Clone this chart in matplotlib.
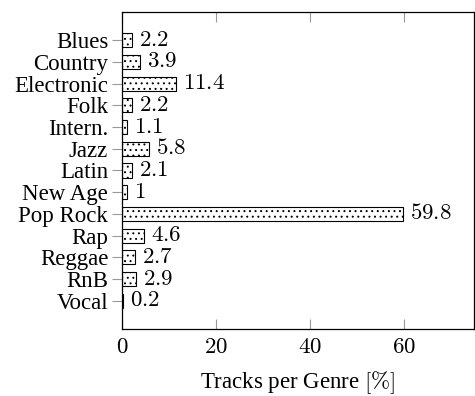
import numpy as np
import matplotlib.pyplot as plt

plt.rcParams['font.family'] = ['Liberation Serif', 'DejaVu Serif']
plt.rcParams['mathtext.fontset'] = 'cm'
plt.rcParams['hatch.linewidth'] = 0.7

genres = ['Blues', 'Country', 'Electronic', 'Folk', 'Intern.', 'Jazz', 'Latin',
          'New Age', 'Pop Rock', 'Rap', 'Reggae', 'RnB', 'Vocal']
share = [2.2, 3.9, 11.4, 2.2, 1.1, 5.8, 2.1, 1, 59.8, 4.6, 2.7, 2.9, 0.2]
xticks = [0, 20, 40, 60]

fig = plt.figure(figsize=(4.75, 3.96), dpi=100)
ax = fig.add_axes([0.257, 0.169, 0.741, 0.801])

y = np.arange(len(genres))
ax.barh(y, share, height=0.65, color='white', edgecolor='black',
        linewidth=0.8, hatch='...')
for yi, v in zip(y, share):
    ax.annotate('$%g$' % v, (v, yi), xytext=(5, 0), textcoords='offset points',
                va='center', ha='left', fontsize=16.5)

ax.set_xlim(0, 75)
ax.set_ylim(len(genres) - 1 + 1.3, -1.3)
ax.set_yticks(y)
ax.set_yticklabels(genres, fontsize=16.5)
ax.set_xticks(xticks)
ax.set_xticklabels(['$%d$' % t for t in xticks], fontsize=16.5)
ax.tick_params(axis='x', direction='in', top=True, length=7, color='#999999', pad=6)
ax.tick_params(axis='y', direction='out', length=7, color='#999999', pad=3)
for s in ax.spines.values():
    s.set_linewidth(0.9)
ax.set_xlabel(r'Tracks per Genre $[\%]$', fontsize=16.5, labelpad=8)

fig.savefig('out.png', dpi=100)
